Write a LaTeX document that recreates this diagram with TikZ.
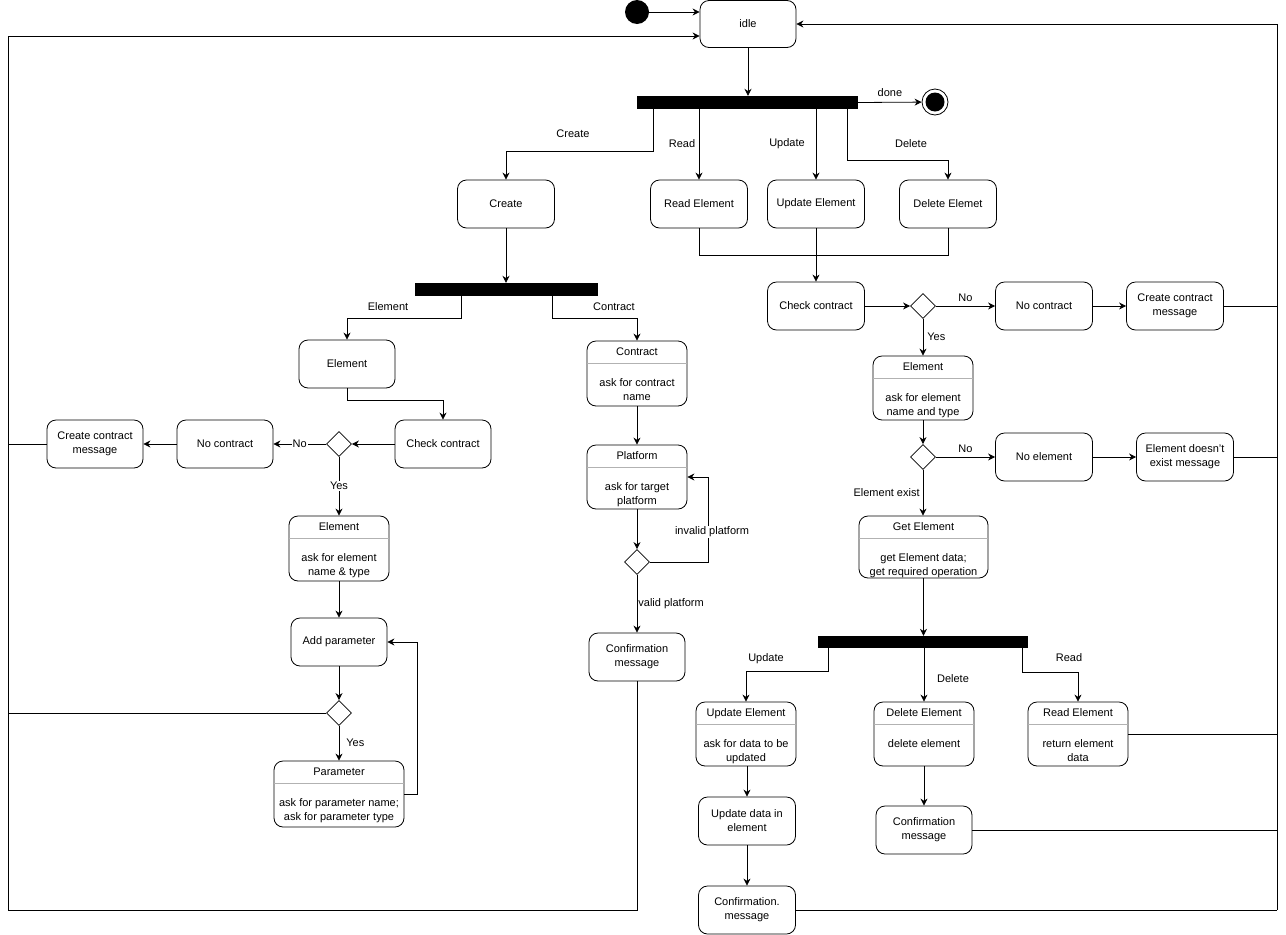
\documentclass[tikz,border=0pt]{standalone}
\usepackage{fontspec}
\setmainfont{Liberation Sans}
\usepackage{tikz}
\usetikzlibrary{arrows.meta, positioning, shapes.geometric, calc}

% box with a header and a body: name, left, top, width, height, header, body
\newcommand{\actbox}[7]{%
  \node[comp, minimum width=#4pt, minimum height=#5pt] (#1) at (#2+#4/2, #3+#5/2) {};
  \draw[gray!60, line width=0.6pt] (#2, #3+22.5) -- (#2+#4, #3+22.5);
  \node[lbl, anchor=base] (#1-hd) at (#2+#4/2, #3+14) {#6};
  \node[lbl, anchor=north, align=center] (#1-bd) at (#2+#4/2, #3+36) {#7};
}

\begin{document}
\begin{tikzpicture}[
  x=1pt, y=-1pt,
  font=\fontsize{11}{14}\selectfont,
  state/.style={draw, line width=0.8pt, rounded corners=9pt, minimum width=97pt, minimum height=48pt, align=center, inner sep=2pt},
  comp/.style={draw, line width=0.8pt, rounded corners=9pt, inner sep=0pt},
  bar/.style={fill=black, inner sep=0pt, minimum height=13pt},
  choice/.style={draw, diamond, fill=white, line width=0.8pt, minimum size=25pt, inner sep=0pt},
  arr/.style={line width=0.8pt, -{Stealth[length=7pt, width=7pt]}},
  link/.style={line width=0.8pt},
  lbl/.style={inner sep=1pt},
  tag/.style={fill=white, inner sep=1pt}
]
\useasboundingbox (0,0) rectangle (1286,935);

% Top part
\node[circle, fill=black, minimum size=24pt, inner sep=0pt] (init) at (637,12) {};
\node[state, minimum width=96pt, minimum height=47pt] (idle) at (748,24) {idle};
\node[bar, minimum width=221pt] (forkA) at (747.5,102.5) {};
\node[circle, draw, line width=0.8pt, minimum size=26pt, inner sep=0pt] (final) at (935,102) {};
\node[circle, fill=black, minimum size=19pt, inner sep=0pt] (finalin) at (final) {};

\node[state] (create) at (506,204) {Create};
\node[state] (readB) at (699,204) {Read Element};
\node[state] (updB) at (816,204) {Update Element};
\node[state] (delB) at (948,204) {Delete Elemet};

% Boxes with header and body
\actbox{elA}{289}{516}{100}{65}{Element}{ask for element\\name \& type}
\actbox{parA}{274}{761}{130}{66}{Parameter}{ask for parameter name;\\ask for parameter type}
\actbox{conA}{587}{341}{100}{65}{Contract}{ask for contract\\name}
\actbox{plaA}{587}{445}{100}{64}{Platform}{ask for target\\platform}
\actbox{elB}{873}{356}{100}{64}{Element}{ask for element\\name and type}
\actbox{getB}{859}{516}{129}{62}{Get Element}{get Element data;\\get required operation}
\actbox{updC}{696}{702}{100}{64}{Update Element}{ask for data to be\\updated}
\actbox{delC}{874}{702}{100}{64}{Delete Element}{delete element}
\actbox{reaC}{1028}{702}{100}{64}{Read Element}{return element\\data}

% Create side
\node[bar, minimum width=183pt] (forkB) at (506.5,289.5) {};
\node[state, minimum width=96pt] (elS) at (347,364) {Element};
\node[state, minimum width=96pt] (chkA) at (443,444) {Check contract};
\node[choice] (decA) at (339,444) {};
\node[state, minimum width=96pt] (nocA) at (225,444) {No contract};
\node[state, minimum width=96pt] (ccmA) at (95,444) {Create contract\\message};
\node[state, minimum width=96pt] (addP) at (339,642) {Add parameter};
\node[choice] (decP) at (339,713) {};
\node[choice] (decPl) at (637,562) {};
\node[state, minimum width=96pt] (confA) at (637,657) {Confirmation\\message};

% Read / update / delete side
\node[state] (chkB) at (816,306) {Check contract};
\node[choice] (decB) at (923,306) {};
\node[state] (nocB) at (1044,306) {No contract};
\node[state] (ccmB) at (1175,306) {Create contract\\message};
\node[choice] (decE) at (923,457) {};
\node[state] (noel) at (1044,457) {No element};
\node[state] (edm) at (1185,457) {Element doesn't\\exist message};
\node[bar, minimum width=210pt, minimum height=12pt] (forkC) at (923,642) {};
\node[state] (upData) at (747,821) {Update data in\\element};
\node[state, minimum width=96pt] (confC) at (924,830) {Confirmation\\message};
\node[state] (confD) at (747,910) {Confirmation.\\message};

% Rails
\coordinate (tl) at (8,36);
\coordinate (bl) at (8,910);
\coordinate (tr) at (1277,24);
\coordinate (br) at (1277,910);

% Top edges
\draw[arr] (init) -- (init -| idle.west);
\draw[arr] (idle.south) -- (idle.south |- forkA.north);
\draw[arr] (forkA.east) -- node[lbl, above=4pt] (lDone) {done} (final);
\draw[arr] ([xshift=-94pt]forkA.south) -- ++(0,42) -| (create.north);
\draw[arr] (readB.north |- forkA.south) -- (readB.north);
\draw[arr] (updB.north |- forkA.south) -- (updB.north);
\draw[arr] ([xshift=100pt]forkA.south) -- ++(0,51) -| (delB.north);
\node[lbl] (lCreate) at (573,134) {Create};
\node[lbl] (lRead) at (682,144) {Read};
\node[lbl] (lUpdate) at (787,144) {Update};
\node[lbl] (lDelete) at (911,144) {Delete};

% Create edges
\draw[arr] (create.south) -- (create.south |- forkB.north);
\draw[arr] ([xshift=-45pt]forkB.south) -- ++(0,22) -| (elS.north);
\draw[arr] ([xshift=46pt]forkB.south) -- ++(0,22) -| (conA.north);
\node[lbl] (lElement) at (388,307) {Element};
\node[lbl] (lContract) at (614,307) {Contract};
\draw[arr] (elS.south) -- ++(0,12) -| (chkA.north);
\draw[arr] (chkA) -- (decA);
\draw[arr] (decA) -- node[tag] (lNoA) {No} (nocA);
\draw[arr] (nocA) -- (ccmA);
\draw[arr] (decA) -- node[tag] (lYesA) {Yes} (elA);
\draw[arr] (elA) -- (addP);
\draw[arr] (addP) -- (decP);
\draw[arr] (decP) -- node[lbl, right=6pt] (lYesP) {Yes} (parA);
\draw[arr] (parA.east) -- ++(13,0) |- (addP.east);
\draw[arr] (conA) -- (plaA);
\draw[arr] (plaA) -- (decPl);
\draw[arr] (decPl.east) -- ++(58,0) |- (plaA.east);
\node[tag] (lInv) at (712,532) {invalid platform};
\draw[arr] (decPl) -- node[lbl, right] (lValid) {valid platform} (confA);

% Read / update / delete edges
\draw[link] (readB.south) -- ++(0,27) -| (delB.south);
\draw[arr] (updB.south) -- (chkB.north);
\draw[arr] (chkB) -- (decB);
\draw[arr] (decB) -- node[lbl, above=3pt] (lNoB) {No} (nocB);
\draw[arr] (nocB) -- (ccmB);
\draw[arr] (decB) -- node[lbl, right=3pt] (lYesB) {Yes} (elB);
\draw[arr] (elB) -- (decE);
\draw[arr] (decE) -- node[lbl, above=3pt] (lNoE) {No} (noel);
\draw[arr] (noel) -- (edm);
\draw[arr] (decE) -- node[lbl, left=2pt] (lExist) {Element exist} (getB.north -| decE);
\draw[arr] (getB.south) -- (getB.south |- forkC.north);
\draw[arr] ([xshift=-95pt]forkC.south) -- ++(0,23) -| (updC.north);
\draw[arr] (delC.north |- forkC.south) -- (delC.north);
\draw[arr] ([xshift=99pt]forkC.south) -- ++(0,24) -| (reaC.north);
\node[lbl] (lUpdC) at (766,659) {Update};
\node[lbl] (lDelC) at (953,679) {Delete};
\node[lbl] (lReaC) at (1069,658) {Read};
\draw[arr] (upData.north |- updC.south) -- (upData.north);
\draw[arr] (upData) -- (confD);
\draw[arr] (delC) -- (confC);

% Back to idle
\draw[arr] (confA.south) |- (bl) -- (tl) -- (tl -| idle.west);
\draw[link] (ccmA.west) -- (ccmA.west -| bl);
\draw[link] (decP.west) -- (decP.west -| bl);
\draw[arr] (br) -- (tr) -- (idle.east);
\draw[link] (ccmB.east) -- (ccmB.east -| br);
\draw[link] (edm.east) -- (edm.east -| br);
\draw[link] (reaC.east) -- (reaC.east -| br);
\draw[link] (confC.east) -- (confC.east -| br);
\draw[link] (confD.east) -- (br);

\end{tikzpicture}
\end{document}
